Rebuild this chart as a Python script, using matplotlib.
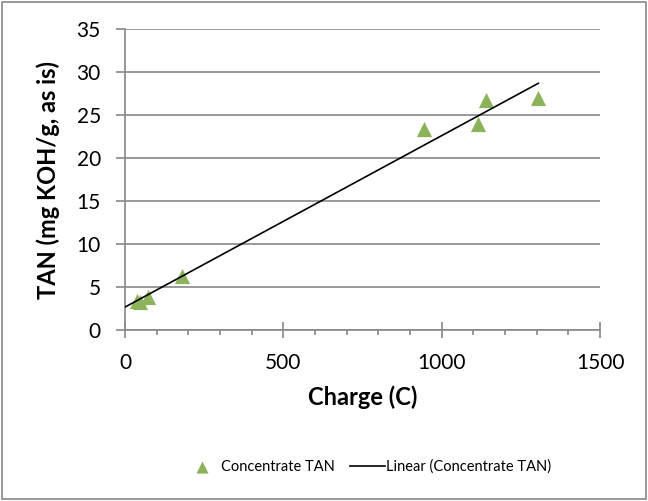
import numpy as np
import matplotlib.pyplot as plt
from matplotlib.ticker import MultipleLocator

plt.rcParams['font.family'] = ['Lato', 'DejaVu Sans']

charge = [38, 47, 73, 180, 945, 1115, 1140, 1305]
tan = [3.4, 3.3, 3.9, 6.3, 23.4, 24.0, 26.7, 27.0]

slope, intercept = np.polyfit(charge, tan, 1)
fit_x = np.array([0, max(charge)])
fit_y = slope * fit_x + intercept

fig = plt.figure(figsize=(6.48, 5.01), dpi=100)
ax = fig.add_axes([0.193, 0.341, 0.733, 0.601])

grid_col = '#888888'
ax.scatter(charge, tan, marker='^', s=120, color='#8db35a', zorder=3,
           label='Concentrate TAN', linewidths=0)
ax.plot(fit_x, fit_y, color='black', lw=1.2, zorder=4,
        label='Linear (Concentrate TAN)')

ax.set_xlim(0, 1500)
ax.set_ylim(0, 35)
ax.xaxis.set_major_locator(MultipleLocator(500))
ax.xaxis.set_minor_locator(MultipleLocator(100))
ax.yaxis.set_major_locator(MultipleLocator(5))
ax.yaxis.grid(True, color=grid_col, lw=1.2)
ax.set_axisbelow(True)
for s in ['top', 'right']:
    ax.spines[s].set_visible(False)
for s in ['left', 'bottom']:
    ax.spines[s].set_color(grid_col)
    ax.spines[s].set_linewidth(1.2)
ax.tick_params(axis='both', which='both', color=grid_col, width=1.2, labelsize=15)
ax.tick_params(axis='y', which='major', direction='out', length=6.5, pad=11)
ax.tick_params(axis='x', which='major', direction='inout', length=11, pad=11)
ax.tick_params(axis='x', which='minor', direction='out', length=3.6)

ax.set_xlabel('Charge (C)', fontsize=17, fontweight='bold', labelpad=9)
ax.set_ylabel('TAN (mg KOH/g, as is)', fontsize=17, fontweight='bold', labelpad=12)

fig.legend(loc='center', bbox_to_anchor=(0.568, 0.068), ncol=2, frameon=False,
           fontsize=10.5, handlelength=2.4, columnspacing=1.0, handletextpad=0.1,
           scatterpoints=1, markerscale=0.8)

fig.patches.append(plt.Rectangle((0.003, 0.004), 0.994, 0.992, transform=fig.transFigure,
                                 fill=False, edgecolor='#888888', lw=1.2))

fig.savefig('out.png', dpi=100)
